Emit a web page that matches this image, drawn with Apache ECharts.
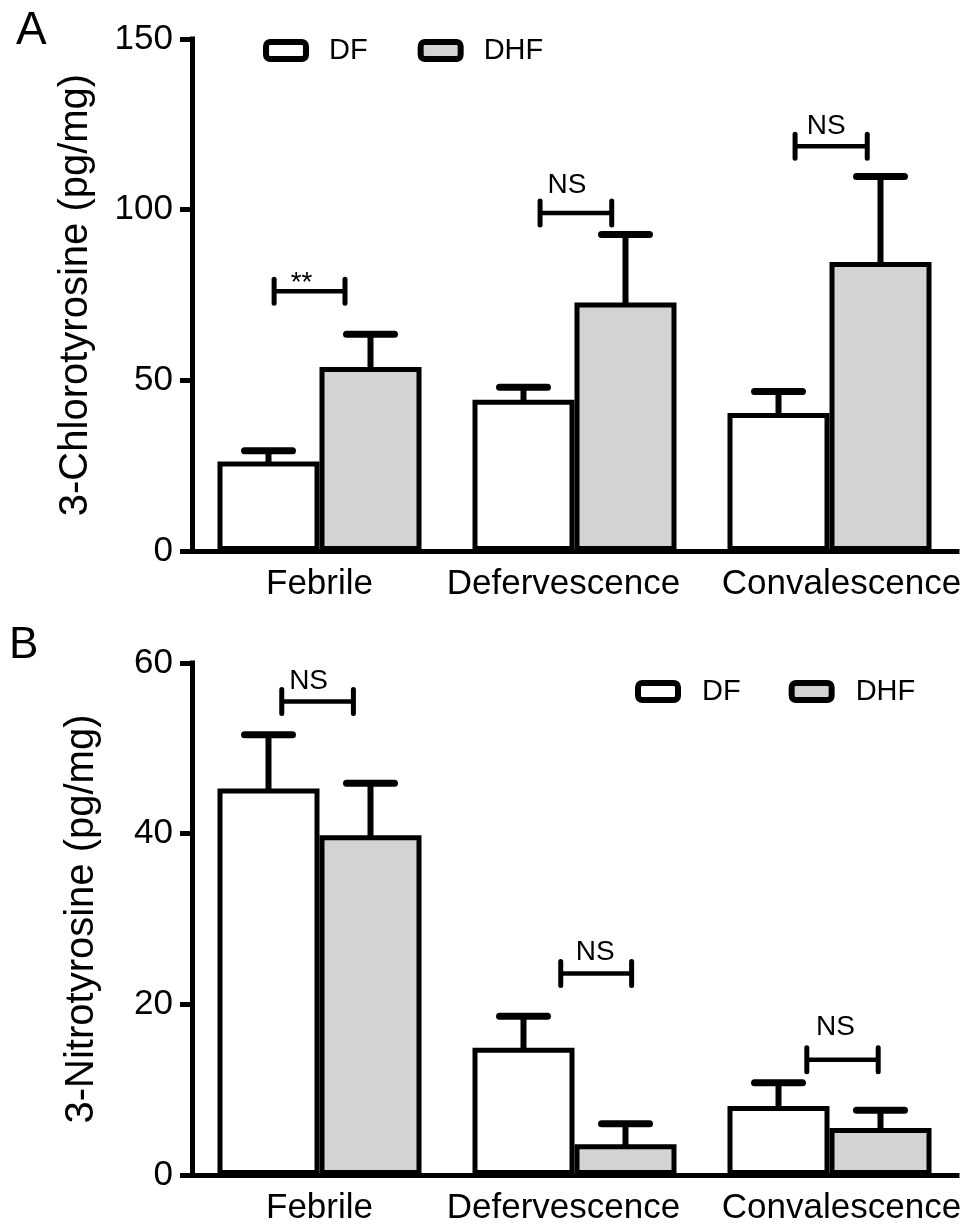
<!DOCTYPE html>
<html>
<head>
<meta charset="utf-8">
<script src="https://cdn.jsdelivr.net/npm/echarts@6/dist/echarts.min.js"></script>
<style>
  html, body { margin: 0; padding: 0; background: #fff; }
  #chart { width: 973px; height: 1226px; }
</style>
</head>
<body>
<div id="chart"></div>
<script>
// ---------- data ----------
const categories = ['Febrile', 'Defervescence', 'Convalescence'];
const seriesNames = ['DF', 'DHF'];

// Panel A: 3-Chlorotyrosine (pg/mg)
const chloroDF = [26.2, 44.3, 40.4];
const chloroDFUpper = [29.4, 48.0, 46.7];
const chloroDHF = [53.9, 72.8, 84.7];
const chloroDHFUpper = [63.5, 92.7, 109.7];
const chloroSigLabels = ['**', 'NS', 'NS'];
const chloroSigLevels = [76.1, 99.0, 118.6];
const chloroTicks = [0, 50, 100, 150];

// Panel B: 3-Nitrotyrosine (pg/mg)
const nitroDF = [45.3, 14.9, 8.1];
const nitroDFUpper = [51.6, 18.6, 10.8];
const nitroDHF = [39.8, 3.6, 5.5];
const nitroDHFUpper = [45.9, 6.0, 7.6];
const nitroSigLabels = ['NS', 'NS', 'NS'];
const nitroSigLevels = [55.5, 23.6, 13.5];
const nitroTicks = [0, 20, 40, 60];

// ---------- layout / style (not data) ----------
const FONT = '"Liberation Sans", Arial, Helvetica, sans-serif';
const GRAY = '#d3d3d3';
// bracket extents in category-width units relative to category centre, text offsets in px
const bracketLayoutA = {
  left: [-0.178, -0.135, -0.135], right: [0.100, 0.146, 0.148],
  dx: [-8, -9, -5], dy: [8, 28, 20]
};
const bracketLayoutB = {
  left: [-0.148, -0.054, -0.089], right: [0.133, 0.224, 0.191],
  dx: [-9, -1, -7], dy: [20, 21, 33]
};
// horizontal nudges of category labels (rich-text padding, px)
const labelRich = {
  k0: { fontSize: 35, fontFamily: FONT, color: '#000' },
  k1: { fontSize: 35, fontFamily: FONT, color: '#000', padding: [0, 22, 0, 0] },
  k2: { fontSize: 35, fontFamily: FONT, color: '#000', padding: [0, 0, 0, 24] }
};

function errData(means, uppers) {
  return means.map((m, i) => [i, m, uppers[i]]);
}
function sigData(levels, labels) {
  return levels.map((v, i) => [i, v, labels[i]]);
}

function errRender(offset) {
  return function (params, api) {
    const c = api.value(0);
    const base = api.coord([c, api.value(1)]);
    const top = api.coord([c, api.value(2)]);
    const cw = api.size([1, 0])[0];
    const x = base[0] + offset * cw;
    const capHalf = 0.094 * cw;
    return {
      type: 'group',
      children: [
        { type: 'line', shape: { x1: x, y1: base[1] + 2, x2: x, y2: top[1] },
          style: { stroke: '#000', lineWidth: 6 } },
        { type: 'line', shape: { x1: x - capHalf, y1: top[1], x2: x + capHalf, y2: top[1] },
          style: { stroke: '#000', lineWidth: 7, lineCap: 'round' } }
      ]
    };
  };
}

function sigRender(layout) {
  return function (params, api) {
    const i = params.dataIndex;
    const c = api.value(0);
    const p = api.coord([c, api.value(1)]);
    const cw = api.size([1, 0])[0];
    const x1 = p[0] + layout.left[i] * cw;
    const x2 = p[0] + layout.right[i] * cw;
    const y = p[1];
    const h = 12;
    const label = api.value(2);
    return {
      type: 'group',
      children: [
        { type: 'line', shape: { x1: x1, y1: y, x2: x2, y2: y },
          style: { stroke: '#000', lineWidth: 4.5 } },
        { type: 'line', shape: { x1: x1, y1: y - h, x2: x1, y2: y + h },
          style: { stroke: '#000', lineWidth: 5, lineCap: 'round' } },
        { type: 'line', shape: { x1: x2, y1: y - h, x2: x2, y2: y + h },
          style: { stroke: '#000', lineWidth: 5, lineCap: 'round' } },
        { type: 'text', x: (x1 + x2) / 2 + layout.dx[i], y: y - layout.dy[i],
          style: { text: label, fontSize: 28, fontFamily: FONT, fill: '#000',
                   align: 'center', verticalAlign: 'middle' } }
      ]
    };
  };
}

function yAxisDef(gridIndex, ticks, name, nameGap) {
  return {
    type: 'value', gridIndex: gridIndex,
    min: ticks[0], max: ticks[ticks.length - 1], interval: ticks[1] - ticks[0],
    name: name, nameLocation: 'middle', nameGap: nameGap,
    nameTextStyle: { fontSize: 40, fontFamily: FONT, color: '#000' },
    axisLine: { show: true, lineStyle: { color: '#000', width: 5, cap: 'square' } },
    axisTick: { show: true, length: 12, lineStyle: { color: '#000', width: 5 } },
    axisLabel: { fontSize: 35, fontFamily: FONT, color: '#000', margin: 19 },
    splitLine: { show: false }
  };
}
function xAxisDef(gridIndex) {
  return {
    type: 'category', gridIndex: gridIndex, data: categories,
    axisLine: { show: true, lineStyle: { color: '#000', width: 5, cap: 'square' } },
    axisTick: { show: false },
    axisLabel: {
      fontSize: 35, fontFamily: FONT, color: '#000', margin: 16, interval: 0,
      formatter: function (v, i) { return '{k' + i + '|' + v + '}'; },
      rich: labelRich
    }
  };
}
function barDef(name, idx, values, fill) {
  return {
    type: 'bar', name: name, xAxisIndex: idx, yAxisIndex: idx, data: values,
    barGap: '0%', barCategoryGap: '20%',
    itemStyle: { color: fill, borderColor: '#000', borderWidth: 5 },
    emphasis: { disabled: true }, z: 2
  };
}
function errDef(idx, offset, means, uppers) {
  return {
    type: 'custom', xAxisIndex: idx, yAxisIndex: idx,
    data: errData(means, uppers), encode: { x: 0, y: [1, 2] },
    renderItem: errRender(offset), z: 3, silent: true
  };
}
function sigDef(idx, levels, labels, layout) {
  return {
    type: 'custom', xAxisIndex: idx, yAxisIndex: idx,
    data: sigData(levels, labels), encode: { x: 0, y: 1 },
    renderItem: sigRender(layout), z: 3, silent: true
  };
}
function legendDef(left, top, gap, pad) {
  return {
    left: left, top: top, orient: 'horizontal', data: seriesNames,
    icon: 'roundRect', itemWidth: 40, itemHeight: 17, itemGap: gap,
    itemStyle: { borderWidth: 6, borderColor: '#000' },
    textStyle: { fontSize: 29, fontFamily: FONT, color: '#000', padding: [0, 0, 0, pad] },
    selectedMode: false
  };
}

const chart = echarts.init(document.getElementById('chart'), null, { renderer: 'canvas' });
chart.setOption({
  backgroundColor: '#fff',
  animation: false,
  textStyle: { fontFamily: FONT },
  grid: [
    { left: 192, top: 39, width: 765, height: 512 },
    { left: 192, top: 663, width: 765, height: 513 }
  ],
  legend: [legendDef(258, 31, 50, 18), legendDef(630, 672, 48, 19)],
  xAxis: [xAxisDef(0), xAxisDef(1)],
  yAxis: [
    yAxisDef(0, chloroTicks, '3-Chlorotyrosine (pg/mg)', 96),
    yAxisDef(1, nitroTicks, '3-Nitrotyrosine (pg/mg)', 90)
  ],
  graphic: [
    { type: 'text', left: 16, top: 8, style: { text: 'A', fontSize: 46, fontFamily: FONT, fill: '#000' } },
    { type: 'text', left: 9, top: 624, style: { text: 'B', fontSize: 44, fontFamily: FONT, fill: '#000' } }
  ],
  series: [
    barDef('DF', 0, chloroDF, '#ffffff'),
    barDef('DHF', 0, chloroDHF, GRAY),
    barDef('DF', 1, nitroDF, '#ffffff'),
    barDef('DHF', 1, nitroDHF, GRAY),
    errDef(0, -0.2, chloroDF, chloroDFUpper),
    errDef(0, 0.2, chloroDHF, chloroDHFUpper),
    errDef(1, -0.2, nitroDF, nitroDFUpper),
    errDef(1, 0.2, nitroDHF, nitroDHFUpper),
    sigDef(0, chloroSigLevels, chloroSigLabels, bracketLayoutA),
    sigDef(1, nitroSigLevels, nitroSigLabels, bracketLayoutB)
  ]
});
</script>
</body>
</html>
